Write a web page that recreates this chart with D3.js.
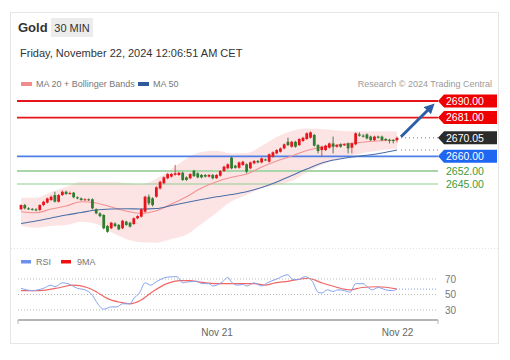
<!DOCTYPE html>
<html><head><meta charset="utf-8">
<script src="https://cdn.jsdelivr.net/npm/d3@7"></script>
<style>body{margin:0;background:#fff}svg{display:block;font-family:"Liberation Sans",Arial,Helvetica,sans-serif}</style>
</head><body><svg id="c" width="510" height="360"></svg>
<script>
// ---------- DATA ----------
const openP=[2631.3,2633.6,2631.8,2631.5,2631.2,2630.9,2633.6,2634.9,2636.3,2639.0,2635.4,2639.0,2640.8,2639.6,2640.3,2637.8,2637.2,2636.4,2636.7,2636.7,2631.3,2629.1,2628.2,2622.2,2621.0,2623.6,2622.8,2621.0,2624.6,2624.0,2623.3,2626.4,2627.3,2630.0,2638.1,2637.2,2638.1,2642.6,2645.4,2648.1,2649.0,2650.0,2649.9,2651.1,2648.6,2648.1,2652.2,2650.8,2649.9,2649.9,2649.0,2649.9,2648.1,2649.5,2652.0,2653.5,2659.3,2654.9,2653.8,2655.3,2655.7,2653.5,2656.2,2657.5,2656.7,2658.3,2657.1,2659.8,2661.6,2662.5,2664.3,2667.9,2665.2,2667.9,2666.1,2668.3,2669.4,2670.1,2671.6,2666.1,2663.4,2663.4,2664.7,2667.0,2665.2,2666.5,2666.1,2667.0,2664.7,2666.5,2671.9,2671.2,2671.9,2670.7,2668.8,2670.7,2670.7,2669.4,2669.0,2668.8,2668.8];
const highP=[2634.0,2634.2,2632.4,2632.0,2631.9,2634.0,2635.9,2637.6,2638.8,2640.8,2639.6,2641.5,2641.4,2640.9,2640.7,2638.3,2637.7,2637.3,2637.2,2637.2,2631.8,2629.6,2628.6,2622.8,2624.5,2624.2,2623.3,2625.6,2625.1,2624.5,2626.9,2628.1,2631.8,2638.7,2639.3,2637.8,2643.8,2646.8,2649.2,2650.9,2651.0,2655.3,2651.6,2651.6,2649.1,2650.9,2652.7,2651.3,2650.4,2650.4,2650.4,2650.4,2650.4,2652.5,2654.9,2656.2,2659.8,2655.4,2657.2,2657.6,2656.2,2657.2,2658.0,2658.0,2659.4,2658.8,2661.6,2662.7,2663.9,2664.8,2667.0,2670.1,2668.4,2668.4,2669.9,2670.6,2673.0,2673.5,2672.1,2666.6,2665.7,2666.3,2667.5,2670.7,2666.6,2667.0,2667.0,2667.5,2667.5,2673.0,2673.0,2672.0,2672.4,2671.2,2671.2,2671.2,2671.2,2669.9,2669.5,2669.3,2670.7];
const lowP=[2630.8,2631.2,2630.9,2630.6,2630.2,2630.4,2633.0,2634.4,2635.8,2635.0,2634.9,2638.5,2639.1,2639.2,2637.3,2636.7,2635.9,2636.0,2635.8,2631.2,2628.6,2627.0,2620.4,2618.6,2620.5,2621.7,2619.9,2620.5,2622.3,2621.4,2622.8,2625.9,2626.8,2629.5,2633.5,2632.8,2637.5,2642.0,2644.9,2647.6,2648.5,2649.5,2649.4,2646.7,2646.7,2647.6,2648.8,2648.1,2648.1,2648.5,2648.5,2647.6,2647.8,2649.0,2651.5,2653.0,2653.0,2653.3,2653.3,2654.8,2650.8,2653.0,2655.7,2656.2,2656.2,2657.5,2656.6,2659.3,2661.1,2662.0,2663.8,2665.6,2664.7,2664.7,2665.6,2667.8,2668.9,2669.6,2665.3,2661.6,2659.8,2662.9,2664.2,2661.6,2664.7,2664.7,2665.6,2661.6,2661.6,2666.0,2670.7,2670.2,2669.2,2668.3,2668.3,2669.6,2668.3,2668.3,2667.0,2667.0,2667.5];
const closeP=[2633.6,2631.8,2631.5,2631.2,2631.0,2633.6,2635.4,2637.2,2638.1,2635.4,2639.0,2640.8,2639.6,2640.1,2637.8,2637.2,2636.3,2636.7,2636.2,2631.8,2629.1,2627.6,2621.0,2619.1,2624.0,2622.2,2620.4,2625.1,2622.8,2621.9,2626.4,2627.6,2631.3,2638.1,2634.5,2633.6,2643.2,2646.2,2648.6,2650.4,2650.4,2650.8,2651.1,2647.2,2647.2,2650.4,2649.3,2648.6,2648.6,2649.0,2649.9,2648.1,2649.9,2652.0,2654.4,2655.7,2653.5,2653.8,2656.7,2657.1,2651.7,2656.7,2657.5,2656.7,2658.9,2658.0,2661.1,2662.2,2663.4,2664.3,2666.5,2666.1,2667.9,2665.2,2669.4,2670.1,2672.5,2673.0,2665.8,2662.9,2665.2,2665.8,2667.0,2665.2,2666.1,2665.2,2666.5,2664.3,2667.0,2672.5,2671.2,2670.7,2669.7,2668.8,2670.7,2670.1,2668.8,2668.8,2668.8,2668.3,2670.05];

const indIdx=[0,4,8,12,16,20,24,28,32,36,40,44,48,52,56,60,64,68,72,76,80,84,88,92,96,100];
const ma20=[2629.97,2629.42,2631.43,2633.06,2635.39,2634.69,2632.52,2630.35,2629.10,2630.51,2634.14,2638.10,2642.82,2646.24,2648.62,2650.41,2654.21,2657.46,2660.17,2663.16,2665.05,2666.14,2667.06,2667.93,2668.47,2668.85];
const bbUpper=[2637.56,2637.55,2640.65,2643.36,2646.24,2646.08,2646.08,2645.53,2644.83,2647.86,2653.12,2658.71,2662.34,2663.05,2661.64,2661.80,2665.60,2670.48,2673.73,2675.09,2674.81,2674.00,2673.57,2673.62,2673.62,2673.46];
const bbLower=[2622.38,2621.29,2622.21,2622.76,2624.54,2623.30,2618.96,2615.17,2613.37,2613.16,2615.16,2617.49,2623.30,2629.43,2635.60,2639.02,2642.82,2644.44,2646.61,2651.23,2655.29,2658.28,2660.55,2662.24,2663.32,2664.24];
const ma50=[2623.57,2624.92,2626.55,2628.18,2629.53,2630.89,2631.43,2631.59,2631.43,2631.70,2633.33,2634.96,2636.58,2638.05,2639.29,2640.81,2643.09,2646.07,2649.60,2653.12,2656.38,2658.28,2659.63,2660.55,2661.80,2663.43];

const rsiIdx=[0,3,6,8,9,11,12.5,15,17,19,20,22,24,25.5,27,29,30,31.5,33,34.5,36,39,41.5,43,44,47,48,50,51,53.5,55,56,57.5,59,60,62,64,65.5,68,71,72,73.5,75.5,77.5,79,80,81.5,83,84.3,86,87.5,89,91,92.3,93.4,95,97,98.7,100];
const rsiVal=[58,55,58,62,60,65,64,58,56,49,41,31,34,34,38,38,45,52,65,62,66.5,72.5,73,65,66,67,64,64,61,66,72,66,62,63,61,65,61,65,70,75.5,70,69,73,67,53,52,56,54,56,55,53,64,64,59,56,59,56,55,57];
const rsiMaIdx=[0,5,10.4,13.8,17.6,20.2,22.9,26.3,29,31.6,35.1,38.8,42.3,44.9,47.6,52.9,62.2,64.9,67.6,71,76.3,80,83.5,87.5,90.7,94.9,100];
const rsiMaVal=[55,55,59,62,59,53,45,40,38,42,54,64,68,68,66,64,64,62,65,67,71,65,60,56,59,60,57];

const supportRes=[2690,2681];
const pivotLevel=[2660];
const greenLevels=[2652,2645];
const lastPrice=2670.05;
const targetPrice=2690;
const rsiLevels=[70,50,30];
const dayTicks=[new Date(2024,10,21),new Date(2024,10,22)];

// ---------- SCALES ----------
const svg=d3.select('#c');
const t0=new Date(2024,10,19,22,0).getTime();
const tAt=i=>new Date(t0+i*1800000);
const x=d3.scaleTime().domain([tAt(0),tAt(100)]).range([21,397]);
const y=d3.scaleLinear().domain([2645,2690]).range([184,101]);
const yR=d3.scaleLinear().domain([30,70]).range([310,279]);
const L=17,R=438;

// card
svg.append('rect').attr('x',10.5).attr('y',12.5).attr('width',488).attr('height',331).attr('fill','#fff').attr('stroke','#e6e6e6');

// header
svg.append('text').attr('x',18).attr('y',32).attr('font-size',13).attr('font-weight','bold').attr('fill','#333').text('Gold');
svg.append('rect').attr('x',51).attr('y',18).attr('width',42).attr('height',19).attr('fill','#ececec');
svg.append('text').attr('x',72).attr('y',32).attr('text-anchor','middle').attr('font-size',11).attr('fill','#333').text('30 MIN');
svg.append('text').attr('x',20).attr('y',57).attr('font-size',11).attr('fill','#333').text('Friday, November 22, 2024 12:06:51 AM CET');

// legend
svg.append('rect').attr('x',21).attr('y',82).attr('width',11).attr('height',4).attr('fill','#f28b8b');
svg.append('text').attr('x',36).attr('y',87).attr('font-size',9).attr('fill','#777').text('MA 20 + Bollinger Bands');
svg.append('rect').attr('x',138).attr('y',82).attr('width',11).attr('height',4).attr('fill','#2e5a9c');
svg.append('text').attr('x',153).attr('y',87).attr('font-size',9).attr('fill','#777').text('MA 50');
svg.append('text').attr('x',492).attr('y',87).attr('text-anchor','end').attr('font-size',9).attr('fill','#9a9a9a').text('Research \u00a9 2024 Trading Central');

// clip
svg.append('clipPath').attr('id','pc').append('rect').attr('x',L).attr('y',90).attr('width',R-L).attr('height',160);
const g=svg.append('g').attr('clip-path','url(#pc)');

const ind=indIdx.map((d,k)=>({i:d,m:ma20[k],u:bbUpper[k],l:bbLower[k],m50:ma50[k]}));
g.append('path').datum(ind).attr('fill','#fde1e1').attr('opacity',0.9)
 .attr('d',d3.area().curve(d3.curveMonotoneX).x(d=>x(tAt(d.i))).y0(d=>y(d.l)).y1(d=>y(d.u)));

// level lines
greenLevels.forEach((p,k)=>{
  g.append('line').attr('x1',L).attr('x2',R).attr('y1',y(p)).attr('y2',y(p))
   .attr('stroke',k===0?'#a9d6a9':'#8fcc8f').attr('stroke-width',k===0?2:1.2);
});
pivotLevel.forEach(p=>{
  g.append('line').attr('x1',L).attr('x2',R).attr('y1',y(p)).attr('y2',y(p)).attr('stroke','#4f7fe6').attr('stroke-width',1.6);
});

g.append('path').datum(ind).attr('fill','none').attr('stroke','#f29090').attr('stroke-width',1.1)
 .attr('d',d3.line().curve(d3.curveMonotoneX).x(d=>x(tAt(d.i))).y(d=>y(d.m)));
g.append('path').datum(ind).attr('fill','none').attr('stroke','#4a6ea8').attr('stroke-width',1.1)
 .attr('d',d3.line().curve(d3.curveMonotoneX).x(d=>x(tAt(d.i))).y(d=>y(d.m50)));

// candles
const candles=closeP.map((c,i)=>({i,o:openP[i],h:highP[i],l:lowP[i],c}));
const cg=g.append('g');
cg.selectAll('line.w').data(candles).join('line').attr('class','w')
 .attr('x1',d=>x(tAt(d.i))).attr('x2',d=>x(tAt(d.i))).attr('y1',d=>y(d.h)).attr('y2',d=>y(d.l))
 .attr('stroke',d=>d.c>=d.o?'#c44':'#3a6a3a').attr('stroke-width',0.9);
cg.selectAll('rect').data(candles).join('rect')
 .attr('x',d=>x(tAt(d.i))-1.4).attr('width',2.8)
 .attr('y',d=>y(Math.max(d.o,d.c))).attr('height',d=>Math.max(1,Math.abs(y(d.o)-y(d.c))))
 .attr('fill',d=>d.c>=d.o?'#e8141c':'#2f7d2f');

// resistance lines
supportRes.forEach(p=>{
  svg.append('line').attr('x1',L).attr('x2',R).attr('y1',y(p)).attr('y2',y(p)).attr('stroke','#e8141c').attr('stroke-width',1.8);
});
// dotted continuation
const xe=x(tAt(100))+4;
svg.append('line').attr('x1',xe).attr('x2',R).attr('y1',y(lastPrice)).attr('y2',y(lastPrice)).attr('stroke','#777').attr('stroke-dasharray','1,3');
svg.append('line').attr('x1',xe).attr('x2',R).attr('y1',y(ma50[ma50.length-1])).attr('y2',y(ma50[ma50.length-1])).attr('stroke','#6688dd').attr('stroke-dasharray','1,3');

// arrow
svg.append('defs').append('marker').attr('id','ah').attr('viewBox','0 0 10 10').attr('refX',5).attr('refY',5)
 .attr('markerWidth',3.4).attr('markerHeight',3.4).attr('orient','auto')
 .append('path').attr('d','M0,0L10,5L0,10Z').attr('fill','#2d5fa6');
svg.append('line').attr('x1',x(tAt(100))+4).attr('y1',y(lastPrice)-1).attr('x2',R-7).attr('y2',y(targetPrice)+6)
 .attr('stroke','#2d5fa6').attr('stroke-width',3).attr('marker-end','url(#ah)');

// labels
function tag(p,fill,txt){
  const yy=y(p);
  svg.append('path').attr('d',`M${R},${yy}L${R+6},${yy-6.5}L497,${yy-6.5}L497,${yy+6.5}L${R+6},${yy+6.5}Z`).attr('fill',fill);
  svg.append('text').attr('x',R+8).attr('y',yy).attr('dy','0.36em').attr('font-size',10.5).attr('fill','#fff').text(txt);
}
supportRes.forEach(p=>tag(p,'#ee0000',d3.format('.2f')(p)));
tag(lastPrice,'#2b2b2b',d3.format('.2f')(lastPrice));
pivotLevel.forEach(p=>tag(p,'#1f66f0',d3.format('.2f')(p)));
greenLevels.forEach(p=>{
  svg.append('text').attr('x',R+8).attr('y',y(p)).attr('dy','0.36em').attr('font-size',10.5).attr('fill','#3c9a3c').text(d3.format('.2f')(p));
});

// separator
svg.append('line').attr('x1',11).attr('x2',498).attr('y1',248.5).attr('y2',248.5).attr('stroke','#e2e2e2').attr('stroke-dasharray','1,2');

// RSI legend
svg.append('rect').attr('x',21).attr('y',260).attr('width',10).attr('height',3.5).attr('fill','#6d8ff0');
svg.append('text').attr('x',36).attr('y',265).attr('font-size',9).attr('fill','#777').text('RSI');
svg.append('rect').attr('x',61).attr('y',260).attr('width',10).attr('height',3.5).attr('fill','#ee1111');
svg.append('text').attr('x',77).attr('y',265).attr('font-size',9).attr('fill','#777').text('9MA');

// RSI levels
rsiLevels.forEach(v=>{
  svg.append('line').attr('x1',L+1).attr('x2',R).attr('y1',yR(v)).attr('y2',yR(v)).attr('stroke','#bbb').attr('stroke-dasharray','1,2');
  svg.append('text').attr('x',R+7).attr('y',yR(v)).attr('dy','0.36em').attr('font-size',10).attr('fill','#777').text(v);
});
const rsiPts=rsiIdx.map((d,k)=>[x(tAt(d)),yR(rsiVal[k])]);
const rsiMaPts=rsiMaIdx.map((d,k)=>[x(tAt(d)),yR(rsiMaVal[k])]);
svg.append('path').attr('d',d3.line().curve(d3.curveMonotoneX)(rsiMaPts)).attr('fill','none').attr('stroke','#f04a4a').attr('stroke-width',1.2).attr('opacity',0.85);
svg.append('path').attr('d',d3.line().curve(d3.curveMonotoneX)(rsiPts)).attr('fill','none').attr('stroke','#86a2ee').attr('stroke-width',1);
svg.append('line').attr('x1',xe-2).attr('x2',R).attr('y1',yR(rsiVal[rsiVal.length-1])).attr('y2',yR(rsiVal[rsiVal.length-1])).attr('stroke','#8aa0e8').attr('stroke-dasharray','1,2');

// x axis
svg.append('line').attr('x1',L+1).attr('x2',R).attr('y1',320).attr('y2',320).attr('stroke','#b5b5b5').attr('stroke-width',2);
svg.append('line').attr('x1',L+1).attr('x2',L+1).attr('y1',320).attr('y2',324).attr('stroke','#b5b5b5');
svg.append('line').attr('x1',R).attr('x2',R).attr('y1',320).attr('y2',324).attr('stroke','#b5b5b5');
const ax=svg.append('g').attr('transform','translate(0,326)')
 .call(d3.axisBottom(x).tickValues(dayTicks).tickFormat(d3.timeFormat('%b %d')).tickSize(0));
ax.select('.domain').remove();
ax.selectAll('text').attr('font-size',10).attr('fill','#666').attr('font-family','"Liberation Sans",Arial,sans-serif');
</script></body></html>
